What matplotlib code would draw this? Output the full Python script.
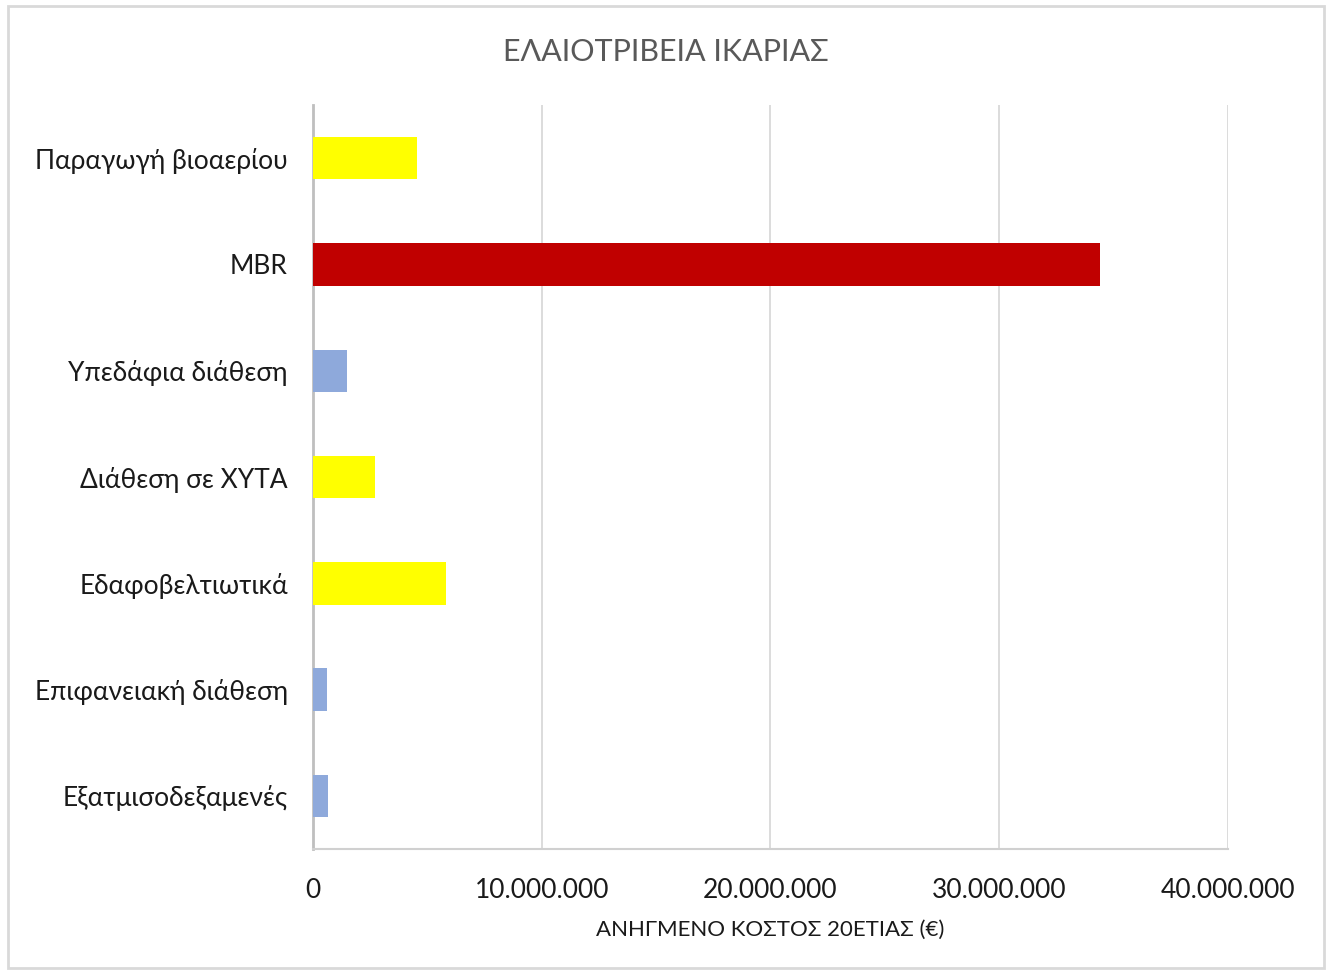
import matplotlib.pyplot as plt
from matplotlib.ticker import FuncFormatter
from matplotlib.patches import Rectangle

plt.rcParams['font.family'] = ['Lato', 'DejaVu Sans']

# ανηγμένο κόστος 20ετίας ανά μέθοδο διαχείρισης (€)
methods = ['Παραγωγή βιοαερίου', 'MBR', 'Υπεδάφια διάθεση', 'Διάθεση σε ΧΥΤΑ',
           'Εδαφοβελτιωτικά', 'Επιφανειακή διάθεση', 'Εξατμισοδεξαμενές']
cost = [4530000, 34400000, 1500000, 2700000, 5820000, 610000, 670000]
colors = ['#FFFF00', '#C00000', '#8EA9DB', '#FFFF00', '#FFFF00', '#8EA9DB', '#8EA9DB']
xticks = [0, 10000000, 20000000, 30000000, 40000000]


def thousands(v, pos):
    return f'{int(v):,}'.replace(',', '.')


fig = plt.figure(figsize=(13.26, 9.71), dpi=100)
ax = fig.add_axes([0.2360, 0.1256, 0.6900, 0.7662])

ypos = list(range(len(methods)))
ax.barh(ypos, cost, height=0.4, color=colors, zorder=3)
ax.set_ylim(len(methods) - 0.5, -0.5)
ax.set_yticks(ypos)
ax.set_yticklabels(methods)
ax.set_xlim(0, 40000000)
ax.set_xticks(xticks)
ax.xaxis.set_major_formatter(FuncFormatter(thousands))

ax.grid(axis='x', color='#d9d9d9', linewidth=1.3, zorder=0)
for s in ['top', 'right']:
    ax.spines[s].set_visible(False)
ax.spines['left'].set_color('#bfbfbf')
ax.spines['left'].set_linewidth(2)
ax.spines['bottom'].set_color('#d0d0d0')
ax.spines['bottom'].set_linewidth(1.5)
ax.tick_params(axis='both', length=0, labelsize=19, labelcolor='#1a1a1a')
ax.tick_params(axis='y', pad=18)
ax.tick_params(axis='x', pad=21)

ax.set_xlabel('ΑΝΗΓΜΕΝΟ ΚΟΣΤΟΣ 20ΕΤΙΑΣ (€)', fontsize=16, color='#1a1a1a', labelpad=12)
fig.text(0.502, 0.946, 'ΕΛΑΙΟΤΡΙΒΕΙΑ ΙΚΑΡΙΑΣ', ha='center', va='center',
         fontsize=22, color='#595959')

# πλαίσιο γραφήματος
fig.patches.append(Rectangle((8 / 1326, 3 / 971), 1316 / 1326, 962 / 971,
                             transform=fig.transFigure, fill=False,
                             edgecolor='#d9d9d9', linewidth=2))

fig.savefig('out.png', dpi=100)
